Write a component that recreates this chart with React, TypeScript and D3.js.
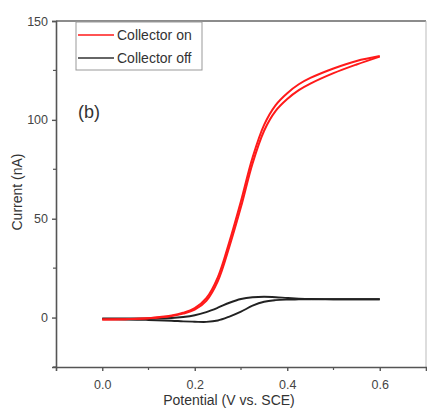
import React, { useRef, useEffect } from 'react'
import * as d3 from 'd3'

// potential grid (V vs. SCE)
const potential = [0, 0.05, 0.1, 0.15, 0.175, 0.2, 0.225, 0.25, 0.275, 0.3, 0.325, 0.35, 0.375, 0.4, 0.425, 0.45, 0.5, 0.55, 0.6]

// collector on, forward / reverse sweep (nA)
const onForward = [-1, -0.8, -0.4, 0.8, 2, 4, 8.5, 18.5, 36, 56, 78, 94.5, 104.5, 110.5, 115, 118.3, 123.6, 128, 132]
const onReverse = [-1, -0.8, -0.3, 1, 2.4, 4.8, 9.8, 20.5, 38.5, 59, 81, 97.5, 107.5, 113.5, 118, 121.2, 126, 129.8, 132.3]

// collector off, forward / reverse sweep (nA)
const offForward = [-0.8, -1, -1.2, -1.6, -1.9, -2.1, -2.2, -1.5, 0.5, 3, 6, 8, 8.8, 9.1, 9.2, 9.3, 9.3, 9.3, 9.3]
const offReverse = [-0.5, -0.5, -0.4, -0.2, 0.3, 1.2, 2.8, 5, 7.5, 9.4, 10.3, 10.5, 10.3, 9.9, 9.6, 9.4, 9.3, 9.3, 9.3]

const xTicks = [0, 0.2, 0.4, 0.6]
const xMinor = [0.1, 0.3, 0.5]
const yTicks = [0, 50, 100, 150]
const yMinor = [-25, 25, 75, 125]

const legendItems = [
    { label: 'Collector on', color: '#ff1a1a' },
    { label: 'Collector off', color: '#333333' },
]

const App = () => {
    const ref = useRef<SVGSVGElement>(null)
    useEffect(() => {
        const w = 427
        const h = 411
        const left = 56, right = 426, top = 21, bottom = 367
        const font = '"Liberation Sans", Arial, sans-serif'
        const svg = d3.select(ref.current)
            .attr('width', w)
            .attr('height', h)
            .style('background', 'white')
        svg.selectAll('*').remove()

        const x = d3.scaleLinear().domain([-0.1, 0.7]).range([left, right])
        const y = d3.scaleLinear().domain([-25, 150]).range([bottom, top])

        // frame (top + right)
        svg.append('line')
            .attr('x1', left).attr('x2', right).attr('y1', top).attr('y2', top)
            .attr('stroke', '#666').attr('stroke-width', 1.6)
        svg.append('line')
            .attr('x1', right).attr('x2', right).attr('y1', top).attr('y2', bottom)
            .attr('stroke', '#bbb').attr('stroke-width', 1)

        // axes
        const xAxis = d3.axisBottom(x).tickValues(xTicks).tickFormat(d3.format('.1f')).tickSize(4).tickPadding(9)
        const yAxis = d3.axisLeft(y).tickValues(yTicks).tickFormat(d3.format('d')).tickSize(4).tickPadding(4)

        const gx = svg.append('g').attr('transform', `translate(0, ${bottom})`).call(xAxis)
        const gy = svg.append('g').attr('transform', `translate(${left}, 0)`).call(yAxis)
        for (const g of [gx, gy]) {
            g.select('.domain').attr('stroke', '#555').attr('stroke-width', 1.6)
            g.selectAll('.tick line').attr('stroke', '#555').attr('stroke-width', 1.4)
            g.selectAll('text')
                .style('font-family', font)
                .style('font-size', '12.5px')
                .style('fill', '#444')
        }

        // minor ticks
        svg.append('g').selectAll('line').data(xMinor).join('line')
            .attr('x1', d => x(d)).attr('x2', d => x(d))
            .attr('y1', bottom).attr('y2', bottom + 3)
            .attr('stroke', '#555').attr('stroke-width', 1.2)
        svg.append('g').selectAll('line').data(yMinor).join('line')
            .attr('x1', left).attr('x2', left - 3)
            .attr('y1', d => y(d)).attr('y2', d => y(d))
            .attr('stroke', '#555').attr('stroke-width', 1.2)

        // axis titles
        svg.append('text')
            .attr('x', (left + right) / 2 - 12).attr('y', 405)
            .attr('text-anchor', 'middle')
            .style('font-family', font).style('font-size', '14px').style('fill', '#333')
            .text('Potential (V vs. SCE)')
        svg.append('text')
            .attr('transform', 'translate(22, 192) rotate(-90)')
            .attr('text-anchor', 'middle')
            .style('font-family', font).style('font-size', '14px').style('fill', '#333')
            .text('Current (nA)')

        // curves
        const line = d3.line<number>()
            .x((d, i) => x(potential[i]))
            .y(d => y(d))
            .curve(d3.curveCatmullRom.alpha(0.5))

        const series = [
            { values: offForward, color: '#222', width: 1.9 },
            { values: offReverse, color: '#222', width: 1.9 },
            { values: onForward, color: '#ff1a1a', width: 2 },
            { values: onReverse, color: '#ff1a1a', width: 2 },
        ]
        svg.append('g').selectAll('path').data(series).join('path')
            .attr('d', d => line(d.values))
            .attr('fill', 'none')
            .attr('stroke', d => d.color)
            .attr('stroke-width', d => d.width)

        // legend
        const lg = svg.append('g')
        lg.append('rect')
            .attr('x', 76).attr('y', 22).attr('width', 126).attr('height', 48)
            .attr('fill', 'white').attr('stroke', '#999').attr('stroke-width', 1)
        const rows = lg.selectAll('g.item').data(legendItems).join('g')
            .attr('class', 'item')
            .attr('transform', (d, i) => `translate(0, ${35 + i * 23})`)
        rows.append('line')
            .attr('x1', 78).attr('x2', 114).attr('y1', 0).attr('y2', 0)
            .attr('stroke', d => d.color).attr('stroke-width', 1.6)
        rows.append('text')
            .attr('x', 117).attr('y', 5)
            .style('font-family', font).style('font-size', '14px').style('fill', '#333')
            .text(d => d.label)

        svg.append('text')
            .attr('x', 78).attr('y', 118)
            .style('font-family', font).style('font-size', '18px').style('fill', '#333')
            .text('(b)')
    }, [])
    return (
        <div>
            <svg ref={ref} style={{ position: 'absolute', left: 0, top: 0 }}></svg>
        </div>
    )
}

export default App
